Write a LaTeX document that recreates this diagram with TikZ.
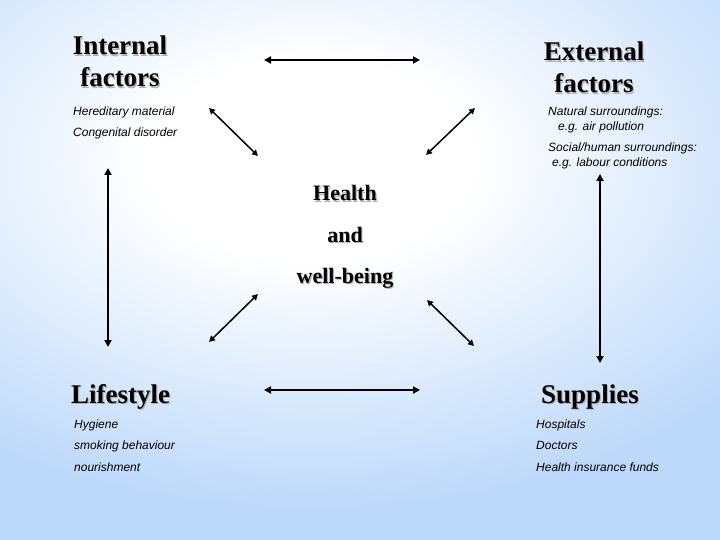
\documentclass[tikz,border=0pt]{standalone}
\usepackage{fontspec}
\setmainfont{Liberation Serif}
\setsansfont{Liberation Sans}
\usetikzlibrary{arrows.meta, positioning}

\definecolor{bgblue}{RGB}{188,216,250}
\pgfdeclareradialshading{slidebg}{\pgfpoint{0bp}{0bp}}{color(0bp)=(white); color(4.5bp)=(white); color(15.75bp)=(bgblue); color(50bp)=(bgblue)}
\newcommand{\shadowed}[1]{\leavevmode\rlap{\kern1.2pt\raisebox{-1.2pt}{\color{black!30}#1}}#1}

\begin{document}
\begin{tikzpicture}[x=1pt, y=-1pt,
    header/.style={font=\bfseries\fontsize{27}{32}\selectfont, align=center, inner sep=0pt},
    itemlist/.style={font=\sffamily\itshape\fontsize{12}{21.5}\selectfont, align=left, anchor=base west, inner sep=0pt},
    link/.style={{Triangle[length=7pt,width=7pt]}-{Triangle[length=7pt,width=7pt]}, line width=1.8pt},
    slant/.style={{Triangle[length=6pt,width=6pt]}-{Triangle[length=6pt,width=6pt]}, line width=1.5pt}]

    % Background
    \useasboundingbox (0,0) rectangle (720,540);
    \begin{scope}
        \clip (0,0) rectangle (720,540);
        \fill[shading=slidebg] (310,160) ellipse (900 and 560);
    \end{scope}

    % Headings (base = last line)
    \node[header, anchor=base] (internal) at (120,87) {\shadowed{Internal}\\\shadowed{factors}};
    \node[header, anchor=base] (external) at (594,93) {\shadowed{External}\\\shadowed{factors}};
    \node[header, anchor=base west] (lifestyle) at (71,403) {\shadowed{Lifestyle}};
    \node[header, anchor=base west] (supplies) at (541,403) {\shadowed{Supplies}};
    \node[header, anchor=base, font=\bfseries\fontsize{22}{41}\selectfont] (health) at (345,283)
        {\shadowed{Health}\\\shadowed{and}\\\shadowed{well-being}};

    % Lists
    \node[itemlist] (internallist) at (73,137) {Hereditary material\\Congenital disorder};
    \node[itemlist, font=\sffamily\itshape\fontsize{12}{15}\selectfont] (naturallist) at (548,131)
        {Natural surroundings:\\\hspace*{10pt}e.g. air pollution};
    \node[itemlist, font=\sffamily\itshape\fontsize{12}{15}\selectfont] (sociallist) at (548,167)
        {Social/human surroundings:\\\hspace*{4pt}e.g. labour conditions};
    \node[itemlist] (lifestylelist) at (74,471) {Hygiene\\smoking behaviour\\nourishment};
    \node[itemlist] (supplieslist) at (536,471) {Hospitals\\Doctors\\Health insurance funds};

    % Arrow ends
    \coordinate (topA) at (264,60);
    \coordinate (topB) at (420,60);
    \coordinate (botA) at (264,390);
    \coordinate (botB) at (420,390);
    \coordinate (leftA) at (108,168);
    \coordinate (leftB) at (108,347);
    \coordinate (rightA) at (600,174);
    \coordinate (rightB) at (600,363);
    \coordinate (tlA) at (209,108);
    \coordinate (tlB) at (258,156);
    \coordinate (trA) at (475,108);
    \coordinate (trB) at (426,155);
    \coordinate (blA) at (209,342);
    \coordinate (blB) at (258,294);
    \coordinate (brA) at (427,300);
    \coordinate (brB) at (474,346);

    % Arrows
    \draw[link] (topA) -- (topB);
    \draw[link] (botA) -- (botB);
    \draw[link] (leftA) -- (leftB);
    \draw[link] (rightA) -- (rightB);
    \draw[slant] (tlA) -- (tlB);
    \draw[slant] (trA) -- (trB);
    \draw[slant] (blA) -- (blB);
    \draw[slant] (brA) -- (brB);

\end{tikzpicture}
\end{document}
